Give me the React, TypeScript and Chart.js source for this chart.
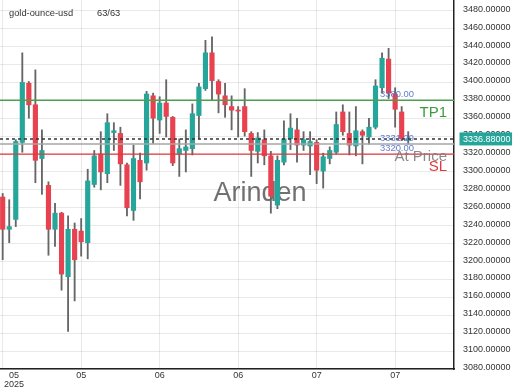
import React, { useEffect, useRef } from "react";
import { Chart, registerables } from "chart.js";

Chart.register(...registerables);

const FONT = '"Liberation Sans", Arial, Helvetica, sans-serif';

const TITLE = "gold-ounce-usd";
const COUNT_TEXT = "63/63";
const WATERMARK = "Arinden";

const OPEN = [
  3272, 3236, 3247, 3333, 3399, 3375, 3315, 3285, 3236, 3254,
  3183, 3236, 3234, 3221, 3286, 3320, 3298, 3344, 3343, 3308,
  3257, 3313, 3310, 3385, 3358, 3377, 3361, 3320, 3324, 3326,
  3363, 3393, 3433, 3401, 3385, 3373, 3368.5, 3373, 3343, 3323,
  3336, 3318, 3263, 3311, 3337, 3347, 3330, 3329, 3333, 3301,
  3315, 3322, 3367, 3343, 3329, 3345, 3339, 3350, 3394, 3426,
  3387, 3367, 3335.5,
];
const HIGH = [
  3276, 3269, 3336, 3433, 3401, 3414, 3347, 3289, 3265, 3255,
  3251, 3243, 3248, 3303, 3324, 3345, 3365, 3355, 3350, 3310,
  3330, 3321, 3390, 3388, 3384, 3403, 3362, 3337, 3347, 3376,
  3399, 3447, 3451, 3403, 3399, 3385, 3373, 3393, 3345, 3344,
  3347, 3323, 3318, 3357, 3365, 3360, 3345, 3345, 3336, 3321,
  3328, 3367, 3375, 3367, 3373, 3347, 3360, 3403, 3433, 3438,
  3394, 3373, 3345,
];
const LOW = [
  3202, 3221, 3239, 3322, 3360, 3288, 3275, 3207, 3217, 3168,
  3122, 3156, 3206, 3203, 3283, 3280, 3288, 3324, 3285, 3251,
  3246, 3270, 3302, 3332, 3343, 3339, 3307, 3295, 3300, 3319,
  3337, 3391, 3380, 3366, 3361, 3347, 3339, 3340, 3295, 3310,
  3308, 3254, 3259, 3308, 3325, 3311, 3324, 3297, 3287, 3282,
  3309, 3320, 3341, 3319, 3318, 3309, 3331, 3348, 3388, 3382,
  3350, 3335, 3331,
];
const CLOSE = [
  3236, 3239, 3334, 3400, 3375, 3313, 3324, 3236, 3254, 3186,
  3236, 3202, 3222, 3290, 3318, 3300, 3355, 3346, 3309, 3260,
  3315, 3289, 3387, 3360, 3377, 3362, 3310, 3326, 3328, 3365,
  3395, 3433, 3402, 3387, 3375, 3369, 3368, 3345, 3324, 3338,
  3318, 3273, 3313, 3337, 3349, 3330, 3336, 3334, 3302, 3317,
  3324, 3353, 3345, 3330, 3346, 3341, 3350, 3396, 3427, 3388,
  3370, 3337, 3336.88,
];

const X_TICKS = [0, 12, 24, 36, 48, 60];
const X_LABELS = [["05", "2025"], ["05"], ["06"], ["06"], ["07"], ["07"]];
const Y_TICKS = [
  3080, 3100, 3120, 3140, 3160, 3180, 3200, 3220, 3240, 3260, 3280,
  3300, 3320, 3340, 3360, 3380, 3400, 3420, 3440, 3460, 3480,
];

const LEVEL_NAMES = ["TP1", "At Price", "SL"];
const LEVEL_VALUES = [3380, 3331.29, 3320];
const LEVEL_PRICE_TEXT = ["3380.00", "3331.29", "3320.00"];
const LEVEL_COLORS = ["#4e9e4e", "#a6a6a6", "#e0393e"];
const LEVEL_TEXT_COLORS = ["#3f9a3f", "rgba(125,125,125,0.9)", "#e0393e"];

const CURRENT_PRICE = 3336.88;
const CURRENT_PRICE_TEXT = "3336.88000";

const X_MIN = -0.41;
const X_MAX = 69.0;
const Y_MIN = 3080;
const Y_MAX = 3492;

const UP = "#26a69a";
const DOWN = "#e8414f";
const WICK = "#666666";
const GRID = "rgba(0,0,0,0.085)";

const overlayPlugin = {
  id: "overlay",
  beforeDatasetsDraw(chart: any) {
    const ctx = chart.ctx;
    ctx.save();
    ctx.font = `27px ${FONT}`;
    ctx.fillStyle = "rgba(88,88,88,0.85)";
    ctx.textAlign = "center";
    ctx.textBaseline = "middle";
    ctx.fillText(WATERMARK, chart.width / 2, chart.height / 2 - 1);
    ctx.restore();
  },
  afterDraw(chart: any) {
    const ctx = chart.ctx;
    const xs = chart.scales.x;
    const ys = chart.scales.y;
    const area = chart.chartArea;
    ctx.save();

    // header
    ctx.font = `9.3px ${FONT}`;
    ctx.fillStyle = "#333";
    ctx.textAlign = "left";
    ctx.textBaseline = "middle";
    ctx.fillText(TITLE, 9, 13);
    ctx.fillText(COUNT_TEXT, 97, 13);

    // x labels
    ctx.font = `9px ${FONT}`;
    ctx.fillStyle = "#333";
    ctx.textAlign = "center";
    X_TICKS.forEach((v, i) => {
      const lines = X_LABELS[i];
      const w = Math.max(...lines.map((l) => ctx.measureText(l).width));
      let px = xs.getPixelForValue(v);
      px = Math.max(px, 4 + w / 2);
      lines.forEach((l, j) => {
        ctx.fillText(l, px, area.bottom + 7 + j * 8.5);
      });
    });

    // level labels
    LEVEL_VALUES.forEach((v, i) => {
      const py = ys.getPixelForValue(v);
      ctx.font = `9.4px ${FONT}`;
      ctx.fillStyle = "rgba(80,110,205,0.9)";
      ctx.textAlign = "left";
      ctx.fillText(LEVEL_PRICE_TEXT[i], area.right - 74, py - 6);
      ctx.font = `15px ${FONT}`;
      ctx.fillStyle = LEVEL_TEXT_COLORS[i];
      ctx.textAlign = "right";
      ctx.fillText(LEVEL_NAMES[i], area.right - 7, py + 12.5);
    });

    // current price box
    const cy = ys.getPixelForValue(CURRENT_PRICE);
    ctx.font = `9px ${FONT}`;
    const tw = ctx.measureText(CURRENT_PRICE_TEXT).width;
    const tx = area.right + 9;
    ctx.fillStyle = UP;
    ctx.fillRect(tx - 3.5, cy - 6.5, tw + 5, 13);
    ctx.fillStyle = "#ffffff";
    ctx.textAlign = "left";
    ctx.fillText(CURRENT_PRICE_TEXT, tx, cy + 0.5);

    ctx.restore();
  },
};

export default function App() {
  const ref = useRef<HTMLCanvasElement | null>(null);

  useEffect(() => {
    if (!ref.current) return;
    const idx = OPEN.map((_, i) => i);
    const bodies = idx.map((i) => ({
      x: i,
      y: [Math.min(OPEN[i], CLOSE[i]), Math.max(OPEN[i], CLOSE[i])],
    }));
    const wicks = idx.map((i) => ({ x: i, y: [LOW[i], HIGH[i]] }));
    const bodyColors = idx.map((i) => (CLOSE[i] >= OPEN[i] ? UP : DOWN));

    const levelLine = (v: number, color: string, width: number, dash: number[] = []) => ({
      type: "line" as const,
      data: [
        { x: X_MIN, y: v },
        { x: X_MAX, y: v },
      ],
      borderColor: color,
      borderWidth: width,
      borderDash: dash,
      pointRadius: 0,
      fill: false,
      order: 0,
    });

    const chart = new Chart(ref.current, {
      type: "bar",
      data: {
        datasets: [
          levelLine(LEVEL_VALUES[0], LEVEL_COLORS[0], 1.5),
          levelLine(LEVEL_VALUES[1], LEVEL_COLORS[1], 1.5),
          levelLine(LEVEL_VALUES[2], LEVEL_COLORS[2], 1.3),
          levelLine(CURRENT_PRICE, "#333333", 1.5, [3, 3]),
          {
            type: "bar",
            data: bodies as any,
            backgroundColor: bodyColors,
            borderWidth: 0,
            barThickness: 4.5,
            grouped: false,
            minBarLength: 1,
            order: 1,
          } as any,
          {
            type: "bar",
            data: wicks as any,
            backgroundColor: WICK,
            borderWidth: 0,
            barThickness: 1.2,
            grouped: false,
            order: 2,
          } as any,
        ],
      },
      options: {
        animation: false,
        responsive: true,
        maintainAspectRatio: false,
        events: [],
        layout: { padding: 0 },
        plugins: {
          legend: { display: false },
          tooltip: { enabled: false },
          title: { display: false },
        },
        scales: {
          x: {
            type: "linear",
            min: X_MIN,
            max: X_MAX,
            offset: false,
            grid: { color: GRID, offset: false, drawTicks: false },
            border: { color: "#222", width: 1.5 },
            ticks: { display: false },
            afterBuildTicks: (s: any) => {
              s.ticks = X_TICKS.map((v) => ({ value: v }));
            },
            afterFit: (s: any) => {
              s.height = 21;
              s.paddingLeft = 0;
              s.paddingRight = 0;
              s.paddingTop = 0;
              s.paddingBottom = 0;
            },
          } as any,
          y: {
            type: "linear",
            position: "right",
            min: Y_MIN,
            max: Y_MAX,
            grid: { color: GRID, drawTicks: false },
            border: { color: "#222", width: 1.5 },
            ticks: {
              autoSkip: false,
              padding: 9,
              labelOffset: -1.5,
              color: "#333",
              font: { family: FONT, size: 9 },
              callback: (v: any) => Number(v).toFixed(5),
            },
            afterBuildTicks: (s: any) => {
              s.ticks = Y_TICKS.map((v) => ({ value: v }));
            },
            afterFit: (s: any) => {
              s.width = 66;
              s.paddingTop = 0;
              s.paddingBottom = 0;
              s.paddingLeft = 0;
              s.paddingRight = 0;
            },
          } as any,
        },
      },
      plugins: [overlayPlugin],
    });
    return () => chart.destroy();
  }, []);

  return (
    <div style={{ position: "fixed", left: 0, top: 0, width: 520, height: 390, background: "#fff" }}>
      <canvas ref={ref} />
    </div>
  );
}
